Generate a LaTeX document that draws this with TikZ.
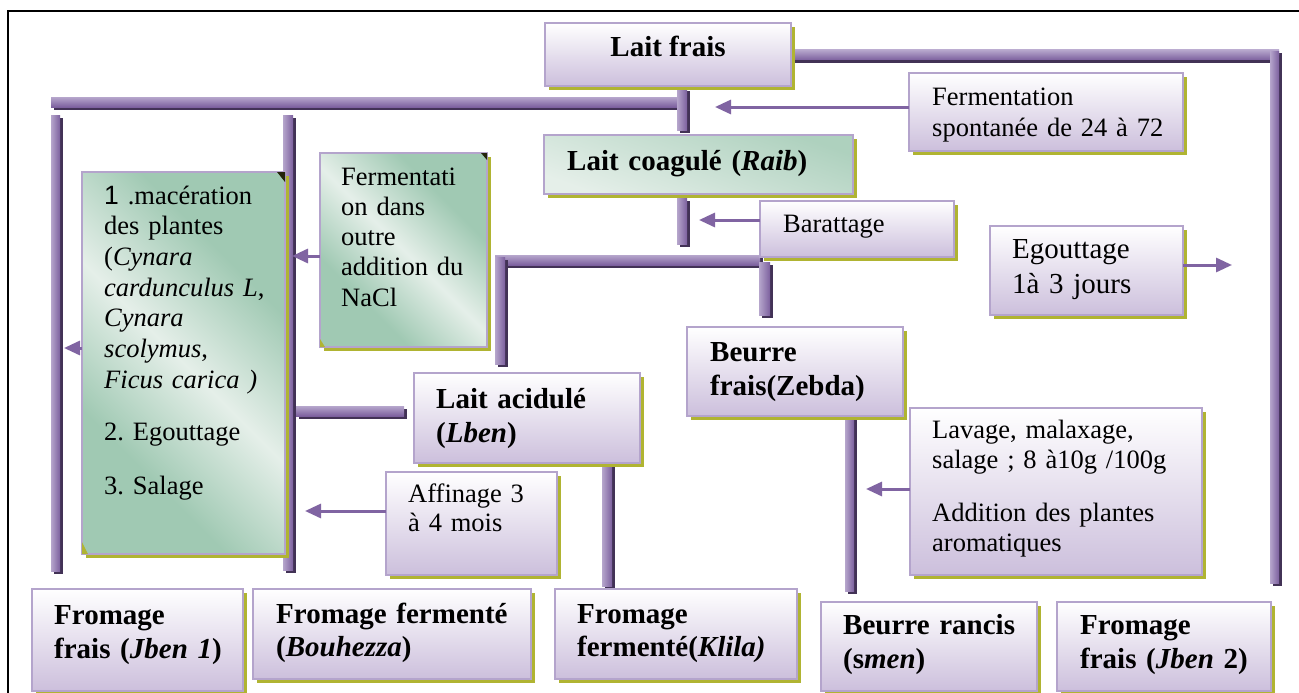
\documentclass[tikz,border=0pt]{standalone}
\usepackage{fontspec}
\setmainfont{Liberation Serif}
\newfontfamily\sansone{Liberation Sans}
\usetikzlibrary{arrows.meta,shadows}
\definecolor{barlight}{RGB}{182,166,204}
\definecolor{barmain}{RGB}{124,96,158}
\definecolor{bardark}{RGB}{66,50,86}
\definecolor{boxborder}{RGB}{180,164,204}
\definecolor{lavbot}{RGB}{204,191,220}
\definecolor{olivesh}{RGB}{176,180,50}
\definecolor{gdark}{RGB}{160,201,179}
\definecolor{glight}{RGB}{229,239,233}
\definecolor{arrowc}{RGB}{128,100,162}
\pgfdeclarehorizontalshading{greendiag}{100bp}{color(0bp)=(gdark); color(32bp)=(gdark); color(50bp)=(glight); color(68bp)=(gdark); color(100bp)=(gdark)}
\pgfdeclareverticalshading{greenflat}{100bp}{color(0bp)=(glight); color(25bp)=(glight); color(75bp)=(gdark!80!glight); color(100bp)=(gdark!80!glight)}
\newcommand\barV[4]{\fill[bardark] (#1+3,#2+3) rectangle (#3+3,#4+3);
  \shade[left color=barlight,right color=barmain] (#1,#2) rectangle (#3,#4);}
\newcommand\barH[4]{\fill[bardark] (#1+3,#2+3) rectangle (#3+3,#4+3);
  \shade[top color=barlight,bottom color=barmain] (#1,#2) rectangle (#3,#4);}
\tikzset{
  lbox/.style={draw=boxborder, line width=2.5pt, top color=white, bottom color=lavbot,
    general shadow={fill=olivesh, shadow xshift=4pt, shadow yshift=-4pt},
    inner sep=0pt, outer sep=0pt, anchor=north west},
  gbox/.style={draw=boxborder, line width=2.5pt, shading=greendiag, shading angle=45,
    general shadow={fill=olivesh, shadow xshift=4pt, shadow yshift=-4pt},
    inner sep=0pt, outer sep=0pt, anchor=north west},
  corner/.style={fill=black!80!olivesh},
  reg/.style={inner sep=0pt, anchor=base west, text width=500pt, align=left,
    font=\fontsize{26.5}{30.7}\selectfont\frenchspacing},
  bld/.style={inner sep=0pt, anchor=base west, text width=500pt, align=left,
    font=\fontsize{29}{34.5}\selectfont\bfseries\frenchspacing},
  arr/.style={draw=arrowc, line width=3pt, -{Triangle[length=16pt,width=14pt]}},
}
\begin{document}
\begin{tikzpicture}[x=1pt,y=-1pt]
\useasboundingbox (0,0) rectangle (1299,693);
\clip (0,0) rectangle (1299,693);
\fill[white] (0,0) rectangle (1299,693);
\draw[line width=2pt] (8,11) rectangle (1330,720);

% bars
\barH{51}{97}{680}{107}
\barV{677}{88}{687}{130}
\barH{791}{50}{1279}{60}
\barV{1270}{52}{1279}{583}
\barV{51}{115}{60}{571}
\barV{283}{115}{293}{570}
\barH{296}{406}{404}{416}
\barV{677}{198}{687}{244}
\barH{495}{255}{760}{265}
\barV{495}{257}{505}{364}
\barV{759}{262}{770}{315}
\barV{602}{463}{612}{586}
\barV{845}{416}{854}{591}

% boxes
\node[lbox, minimum width=246pt, minimum height=63pt] (laitfrais) at (545,23) {};
\node[lbox, minimum width=274pt, minimum height=78pt] (ferm1) at (909,73) {};
\node[gbox, shading=greenflat, shading angle=-20, minimum width=309pt, minimum height=59pt] (raib) at (544,135) {};
\node[lbox, minimum width=194pt, minimum height=56pt] (baratt) at (760,201) {};
\node[lbox, minimum width=193pt, minimum height=89pt] (egout) at (990,226) {};
\node[lbox, minimum width=216pt, minimum height=89pt] (beurre) at (687,327) {};
\node[lbox, minimum width=226pt, minimum height=90pt] (lben) at (414,373) {};
\node[lbox, minimum width=292pt, minimum height=167pt] (lavage) at (910,408) {};
\node[lbox, minimum width=171pt, minimum height=103pt] (affin) at (386,472) {};
\node[gbox, minimum width=203pt, minimum height=382pt] (macer) at (82,172) {};
\node[gbox, minimum width=167pt, minimum height=194pt] (fermti) at (320,153) {};
\node[lbox, minimum width=211pt, minimum height=102pt] (jben1) at (32,589) {};
\node[lbox, minimum width=278pt, minimum height=90pt] (bouh) at (253,589) {};
\node[lbox, minimum width=242pt, minimum height=90pt] (klila) at (555,589) {};
\node[lbox, minimum width=216pt, minimum height=89pt] (smen) at (821,602) {};
\node[lbox, minimum width=214pt, minimum height=89pt] (jben2) at (1057,602) {};

% folded corners of the green boxes
\fill[corner] ([xshift=-8pt]macer.north east) -- (macer.north east) -- ([yshift=-10pt]macer.north east) -- cycle;
\fill[olivesh] ([yshift=12pt]macer.south west) -- (macer.south west) -- ([xshift=6pt]macer.south west) -- cycle;
\fill[corner] ([xshift=-6pt]fermti.north east) -- (fermti.north east) -- ([yshift=-7pt]fermti.north east) -- cycle;
\fill[olivesh] ([yshift=8pt]fermti.south west) -- (fermti.south west) -- ([xshift=5pt]fermti.south west) -- cycle;

% texts
\node[inner sep=0pt, anchor=base, font=\fontsize{29}{34}\selectfont\bfseries] (laitfraist) at (668,57) {Lait frais};
\node[reg, font=\fontsize{26.5}{32}\selectfont] (ferm1t) at (932,105) {Fermentation\\spontanée de 24 à 72};
\node[bld] (raibt) at (567,170) {Lait coagulé (\textit{Raib})};
\node[reg] (barattt) at (783,232) {Barattage};
\node[reg, font=\fontsize{29}{35}\selectfont] (egoutt) at (1012,258) {Egouttage\\1à 3 jours};
\node[bld] (beurret) at (710,361) {Beurre\\frais(Zebda)};
\node[bld, font=\fontsize{29}{34}\selectfont\bfseries] (lbent) at (436,408) {Lait acidulé\\(\textit{Lben})};
\node[reg, font=\fontsize{26.5}{30}\selectfont] (lavaget) at (932,438) {Lavage, malaxage,\\salage ; 8 à10g /100g\\[23pt]Addition des plantes\\aromatiques};
\node[reg, font=\fontsize{26.5}{29}\selectfont] (affint) at (408,502) {Affinage 3\\à 4 mois};
\node[reg] (macert) at (104,204) {{\sansone 1} .macération\\des plantes\\(\textit{Cynara}\\\textit{cardunculus L},\\\textit{Cynara}\\\textit{scolymus},\\\textit{Ficus carica )}\\[22pt]2. Egouttage\\[23pt]3. Salage};
\node[reg, font=\fontsize{26.5}{30.25}\selectfont] (fermtit) at (341,185) {Fermentati\\on dans\\outre\\addition du\\NaCl};
\node[bld] (jben1t) at (54,624) {Fromage\\frais (\textit{Jben 1})};
\node[bld, font=\fontsize{29}{33}\selectfont\bfseries] (bouht) at (276,623) {Fromage fermenté\\(\textit{Bouhezza})};
\node[bld, font=\fontsize{29}{33}\selectfont\bfseries] (klilat) at (577,623) {Fromage\\fermenté(\textit{Klila)}};
\node[bld] (sment) at (843,634) {Beurre rancis\\(s\textit{men})};
\node[bld] (jben2t) at (1080,634) {Fromage\\frais (\textit{Jben} 2)};

% arrows
\coordinate (a1) at (715,107);
\coordinate (a2) at (699,220);
\coordinate (a3) at (292,256);
\coordinate (a4) at (64,348);
\coordinate (a5) at (305,511);
\coordinate (a6) at (866,489);
\coordinate (a7) at (1232,265);
\draw[arr] (ferm1.west |- a1) -- (a1);
\draw[arr] (baratt.west |- a2) -- (a2);
\draw[arr] (fermti.west |- a3) -- (a3);
\draw[arr] (macer.west |- a4) -- (a4);
\draw[arr] (affin.west |- a5) -- (a5);
\draw[arr] (lavage.west |- a6) -- (a6);
\draw[arr] (egout.east |- a7) -- (a7);
\end{tikzpicture}
\end{document}
